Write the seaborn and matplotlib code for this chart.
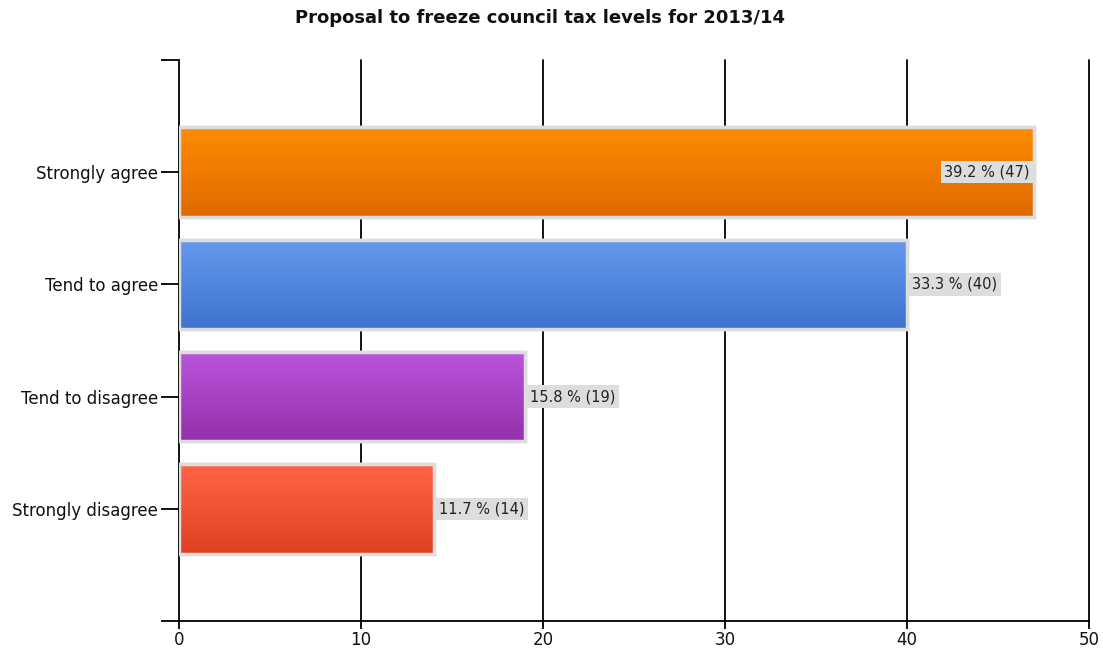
import numpy as np
import pandas as pd
import matplotlib
matplotlib.use("Agg")
import matplotlib.pyplot as plt
import seaborn as sns
from matplotlib.colors import LinearSegmentedColormap

categories = ["Strongly agree", "Tend to agree", "Tend to disagree", "Strongly disagree"]
counts = [47, 40, 19, 14]
percents = [39.2, 33.3, 15.8, 11.7]
top_colors = ["#FF8C00", "#6699EE", "#BB55DD", "#FF6645"]
bottom_colors = ["#DE6A00", "#3F72CC", "#9430AA", "#DD4022"]
xticks = [0, 10, 20, 30, 40, 50]
title = "Proposal to freeze council tax levels for 2013/14"

sns.set_theme(style="white")
plt.rcParams['font.family'] = ['DejaVu Sans']

fig = plt.figure(figsize=(11.03, 6.49), dpi=100)
ax = fig.add_axes([179/1103, 1-621/649, (1089-179)/1103, (621-60)/649])

df = pd.DataFrame({"cat": categories, "count": counts})
sns.barplot(data=df, y="cat", x="count", hue="cat", palette=top_colors, legend=False,
            orient="h", width=0.8, ax=ax, zorder=3)

ax.set_xlim(0, 50)
ax.set_ylim(4.0, -1.0)

for i, p in enumerate(ax.patches):
    x0, y0 = p.get_x(), p.get_y()
    w, h = p.get_width(), p.get_height()
    cmap = LinearSegmentedColormap.from_list("g", [top_colors[i], bottom_colors[i]])
    grad = np.linspace(0, 1, 256).reshape(-1, 1)
    im = ax.imshow(grad, cmap=cmap, aspect="auto", extent=(x0, x0 + w, y0 + h, y0),
                   zorder=3.5, interpolation="bilinear")
    im.set_clip_path(p)
    p.set_edgecolor("#DDDDDD")
    p.set_linewidth(2.5)
    ax.add_patch(plt.Rectangle((x0, y0), w, h, fill=False, edgecolor="#DDDDDD",
                               linewidth=2.5, zorder=4))
    label = f"{percents[i]} % ({counts[i]})"
    if counts[i] > 45:
        ax.text(x0 + w - 0.25, y0 + h / 2, label, ha="right", va="center", fontsize=10.5,
                color="#222222", zorder=6,
                bbox=dict(boxstyle="square,pad=0.25", fc="#DDDDDD", ec="none"))
    else:
        ax.text(x0 + w + 0.3, y0 + h / 2, label, ha="left", va="center", fontsize=10.5,
                color="#222222", zorder=6,
                bbox=dict(boxstyle="square,pad=0.25", fc="#DDDDDD", ec="none"))

ax.set_ylim(4.0, -1.0)
ax.set_xlim(0, 50)
ax.set_xticks(xticks)
ax.set_xticklabels([str(t) for t in xticks], fontsize=12, color="#111111")
ax.set_yticks(range(len(categories)))
ax.set_yticklabels(categories, fontsize=12, color="#111111")
ax.set_yticks([-1.0, 4.0], minor=True)
ax.set_xlabel("")
ax.set_ylabel("")

for t in xticks[1:]:
    ax.axvline(t, color="black", linewidth=1.3, zorder=1, clip_on=False)

for s in ["top", "right"]:
    ax.spines[s].set_visible(False)
for s in ["left", "bottom"]:
    ax.spines[s].set_visible(True)
    ax.spines[s].set_color("black")
    ax.spines[s].set_linewidth(1.3)
ax.spines["bottom"].set_bounds(0, 50)

ax.tick_params(axis="x", which="major", direction="out", length=6, width=1.3, color="black",
               bottom=True, pad=1)
ax.tick_params(axis="y", which="both", direction="out", length=13, width=1.3, color="black",
               left=True, pad=2)
ax.grid(False)

fig.text(540/1103, 1 - 18/649, title, ha="center", va="center", fontsize=13,
         fontweight="bold", color="#111111")

fig.savefig("out.png", dpi=100, facecolor="white")
